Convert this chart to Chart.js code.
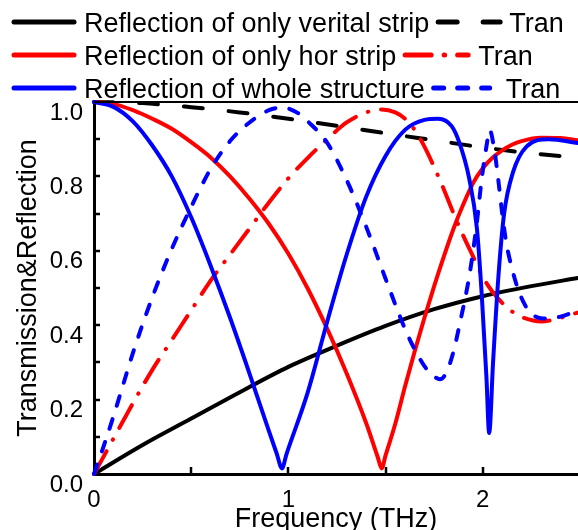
<!DOCTYPE html>
<html lang="en">
<head>
<meta charset="UTF-8" />
<title>Transmission &amp; Reflection</title>
<script src="https://cdn.jsdelivr.net/npm/chart.js"></script>
<style>
  html, body { margin: 0; padding: 0; background: #fff; }
  canvas { display: block; }
</style>
</head>
<body>
<canvas id="trChart" width="578" height="530"></canvas>
<script>
  // vertical strip only (black)
  const vertFreq = [0, 0.25, 0.5, 0.75, 1.0, 1.25, 1.5, 1.75, 2.0, 2.25, 2.49];
  const vertRefl = [0, 0.078, 0.149, 0.22, 0.288, 0.345, 0.398, 0.443, 0.478, 0.505, 0.527];
  const vertTran = [1.0, 0.997, 0.986, 0.972, 0.955, 0.936, 0.916, 0.897, 0.878, 0.862, 0.85];

  // horizontal strip only (red)
  const horReflFreq = [0, 0.1, 0.2, 0.3, 0.4, 0.5, 0.6, 0.7, 0.8, 0.9, 1.0, 1.1, 1.2, 1.3, 1.4, 1.46, 1.48, 1.5,
    1.55, 1.6, 1.65, 1.7, 1.75, 1.8, 1.85, 1.9, 1.95, 2.0, 2.05, 2.1, 2.15, 2.2, 2.3, 2.4, 2.49];
  const horRefl = [1.0, 0.995, 0.978, 0.955, 0.928, 0.892, 0.851, 0.80, 0.74, 0.672, 0.592, 0.498, 0.39, 0.27, 0.137, 0.045, 0.015, 0.05,
    0.135, 0.235, 0.33, 0.42, 0.505, 0.585, 0.66, 0.725, 0.782, 0.822, 0.85, 0.87, 0.885, 0.895, 0.904, 0.903, 0.897];
  const horTranFreq = [0, 0.1, 0.2, 0.3, 0.4, 0.5, 0.6, 0.7, 0.8, 0.9, 1.0, 1.1, 1.2, 1.3, 1.4, 1.48,
    1.55, 1.6, 1.65, 1.7, 1.75, 1.8, 1.85, 1.9, 1.95, 2.0, 2.05, 2.1, 2.15, 2.2, 2.3, 2.4, 2.49];
  const horTran = [0, 0.095, 0.19, 0.28, 0.36, 0.44, 0.52, 0.59, 0.66, 0.73, 0.795, 0.85, 0.90, 0.945, 0.972, 0.98,
    0.972, 0.955, 0.925, 0.88, 0.825, 0.765, 0.70, 0.64, 0.585, 0.53, 0.49, 0.46, 0.437, 0.422, 0.41, 0.42, 0.434];

  // whole structure (blue)
  const wholeReflFreq = [0, 0.1, 0.2, 0.3, 0.4, 0.5, 0.6, 0.7, 0.8, 0.9, 0.94, 0.967, 0.99, 1.1, 1.2, 1.3, 1.4, 1.5,
    1.6, 1.7, 1.77, 1.84, 1.88, 1.93, 1.97, 1.995, 2.019, 2.033, 2.053, 2.08, 2.11, 2.155, 2.225, 2.34, 2.49];
  const wholeRefl = [1.0, 0.987, 0.948, 0.883, 0.80, 0.69, 0.56, 0.42, 0.27, 0.115, 0.055, 0.015, 0.053, 0.22, 0.41, 0.59, 0.745, 0.855,
    0.925, 0.952, 0.955, 0.935, 0.89, 0.795, 0.66, 0.48, 0.26, 0.11, 0.30, 0.527, 0.70, 0.81, 0.88, 0.90, 0.89];
  const wholeTranFreq = [0, 0.05, 0.1, 0.15, 0.2, 0.3, 0.4, 0.5, 0.6, 0.7, 0.8, 0.9, 0.97, 1.05, 1.1, 1.2, 1.3, 1.4,
    1.5, 1.6, 1.65, 1.7, 1.75, 1.78, 1.81, 1.85, 1.88, 1.93, 1.97, 1.995, 2.02, 2.035, 2.06, 2.08, 2.1, 2.12, 2.15,
    2.19, 2.24, 2.31, 2.4, 2.49];
  const wholeTran = [0, 0.075, 0.155, 0.24, 0.325, 0.475, 0.605, 0.718, 0.82, 0.895, 0.945, 0.978, 0.985, 0.97, 0.948, 0.89,
    0.79, 0.665, 0.525, 0.39, 0.335, 0.29, 0.262, 0.255, 0.27, 0.33, 0.40, 0.53, 0.677, 0.795, 0.884, 0.925, 0.87, 0.79,
    0.70, 0.625, 0.553, 0.485, 0.437, 0.418, 0.423, 0.44];

  const seriesLabels = ['Reflection of only verital strip', 'Tran', 'Reflection of only hor strip', 'Tran',
    'Reflection of whole structure', 'Tran'];

  const xTickValues = [0, 1, 2];
  const yTickValues = [0, 0.2, 0.4, 0.6, 0.8, 1.0];
  const xTickMarks = [0.5, 1, 1.5, 2];
  const yTickMarks = [0.1, 0.2, 0.3, 0.4, 0.5, 0.6, 0.7, 0.8, 0.9];

  const FONT = '"Liberation Sans", Arial, sans-serif';

  function pts(xs, ys) {
    return xs.map((x, i) => ({ x: x, y: ys[i] }));
  }

  function series(label, data, color, dash, order) {
    return {
      label: label,
      data: data,
      borderColor: color,
      backgroundColor: color,
      borderWidth: 4,
      borderDash: dash,
      borderCapStyle: 'round',
      pointRadius: 0,
      fill: false,
      cubicInterpolationMode: 'monotone',
      clip: 4,
      order: order
    };
  }

  // inward tick marks + top frame
  const frame = {
    id: 'frame',
    afterDatasetsDraw(chart) {
      const { ctx, chartArea, scales } = chart;
      ctx.save();
      ctx.strokeStyle = '#000';
      ctx.lineWidth = 2;
      ctx.beginPath();
      ctx.moveTo(chartArea.left, chartArea.top);
      ctx.lineTo(chartArea.right, chartArea.top);
      ctx.stroke();
      ctx.lineWidth = 2.5;
      ctx.beginPath();
      yTickMarks.forEach(v => {
        const y = Math.round(scales.y.getPixelForValue(v));
        ctx.moveTo(chartArea.left, y);
        ctx.lineTo(chartArea.left + 6, y);
      });
      xTickMarks.forEach(v => {
        const x = Math.round(scales.x.getPixelForValue(v));
        ctx.moveTo(x, chartArea.bottom);
        ctx.lineTo(x, chartArea.bottom - 7);
      });
      ctx.stroke();
      ctx.restore();
    }
  };

  // two-column legend drawn above the plot
  const pairLegend = {
    id: 'pairLegend',
    afterDraw(chart) {
      const ctx = chart.ctx;
      const ds = chart.data.datasets;
      const rows = [
        { a: 0, b: 1, y: 22, len: 62, gap: 9 },
        { a: 2, b: 3, y: 55, len: 63, gap: 10 },
        { a: 4, b: 5, y: 88, len: 56, gap: 16 }
      ];
      ctx.save();
      ctx.font = '27px ' + FONT;
      ctx.textBaseline = 'alphabetic';
      rows.forEach(r => {
        sample(ctx, ds[r.a], 14, 74, r.y);
        ctx.fillStyle = '#000';
        ctx.fillText(ds[r.a].label, 84, r.y + 10);
        const x2 = 84 + ctx.measureText(ds[r.a].label).width + 9;
        sample(ctx, ds[r.b], x2, x2 + r.len, r.y);
        ctx.fillStyle = '#000';
        ctx.fillText(ds[r.b].label, x2 + r.len + r.gap, r.y + 10);
      });
      ctx.restore();
    }
  };

  function sample(ctx, d, x0, x1, y) {
    ctx.save();
    ctx.strokeStyle = d.borderColor;
    ctx.lineWidth = 5;
    ctx.lineCap = 'round';
    ctx.setLineDash(d.borderDash || []);
    ctx.beginPath();
    ctx.moveTo(x0, y);
    ctx.lineTo(x1, y);
    ctx.stroke();
    ctx.restore();
  }

  new Chart(document.getElementById('trChart'), {
    type: 'line',
    data: {
      datasets: [
        series(seriesLabels[0], pts(vertFreq, vertRefl), '#000000', [], 2),
        series(seriesLabels[1], pts(vertFreq, vertTran), '#000000', [19, 26], 2),
        series(seriesLabels[2], pts(horReflFreq, horRefl), '#ff0000', [], 1),
        series(seriesLabels[3], pts(horTranFreq, horTran), '#ff0000', [26, 13, 0.5, 13], 1),
        series(seriesLabels[4], pts(wholeReflFreq, wholeRefl), '#0000ff', [], 0),
        series(seriesLabels[5], pts(wholeTranFreq, wholeTran), '#0000ff', [10, 14], 0)
      ]
    },
    options: {
      responsive: false,
      animation: false,
      layout: { padding: { top: 102, right: 0, bottom: 0, left: 0 } },
      plugins: {
        legend: { display: false },
        tooltip: { enabled: false }
      },
      scales: {
        x: {
          type: 'linear',
          min: 0,
          max: 2.49,
          afterFit: s => { s.height = 56; },
          afterBuildTicks: s => { s.ticks = xTickValues.map(v => ({ value: v })); },
          grid: { display: false, drawTicks: false },
          border: { display: true, color: '#000', width: 3 },
          ticks: {
            color: '#000',
            font: { family: FONT, size: 24 },
            padding: 12,
            maxRotation: 0,
            callback: v => String(v)
          },
          title: {
            display: true,
            text: 'Frequency (THz)',
            color: '#000',
            font: { family: FONT, size: 27, lineHeight: 1 },
            padding: { top: 0, bottom: -3 }
          }
        },
        y: {
          min: 0,
          max: 1.0,
          afterFit: s => { s.width = 94; },
          afterBuildTicks: s => { s.ticks = yTickValues.map(v => ({ value: v })); },
          grid: { display: false, drawTicks: false },
          border: { display: true, color: '#000', width: 3 },
          ticks: {
            color: '#000',
            font: { family: FONT, size: 24 },
            padding: 11,
            labelOffset: 11,
            callback: v => v.toFixed(1)
          },
          title: {
            display: true,
            text: 'Transmission&Reflection',
            color: '#000',
            font: { family: FONT, size: 27 },
            padding: { top: 12, bottom: 0 }
          }
        }
      }
    },
    plugins: [frame, pairLegend]
  });
</script>
</body>
</html>
